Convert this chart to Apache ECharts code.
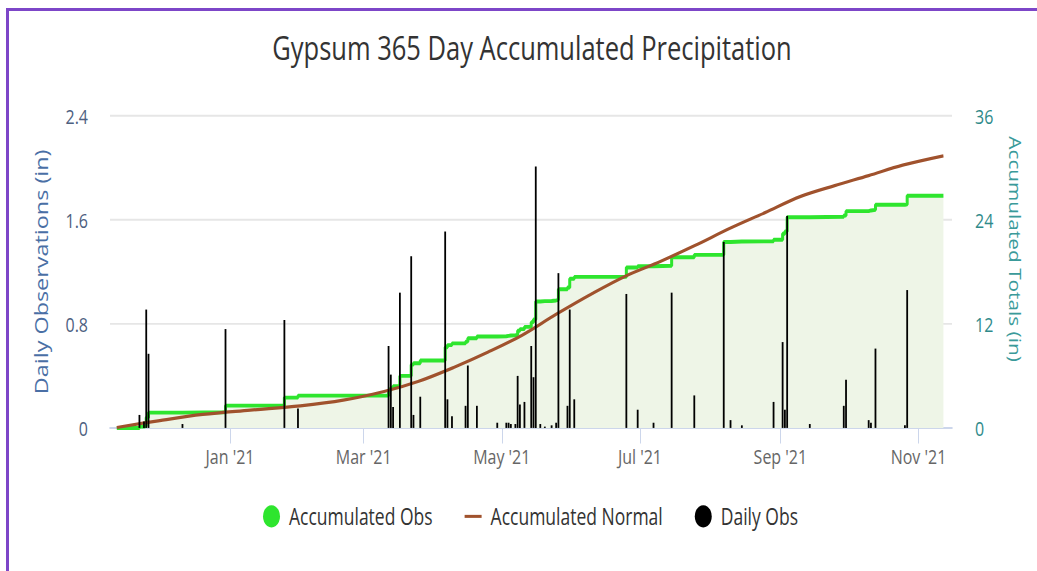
<!DOCTYPE html>
<html><head><meta charset="utf-8">
<script src="https://cdn.jsdelivr.net/npm/echarts@6/dist/echarts.min.js"></script>
<style>
html,body{margin:0;padding:0;background:#fff;overflow:hidden;width:1037px;height:571px;}
#chart{position:absolute;left:0;top:0;width:1037px;height:439px;transform:scaleY(1.3007);transform-origin:0 0;}
#frame{position:absolute;left:6px;top:8px;width:1100px;height:700px;border-left:3px solid #7d46c8;border-top:3px solid #7d46c8;box-sizing:border-box;pointer-events:none;}
</style></head><body>
<div id="chart"></div><div id="frame"></div>
<script>
// ---- data ----
const tickDates = ['2021-01-01','2021-03-01','2021-05-01','2021-07-01','2021-09-01','2021-11-01'];

const dailyDates = ['2020-11-22','2020-11-24','2020-11-25','2020-11-26','2020-12-11','2020-12-30','2021-01-25','2021-01-31',
  '2021-03-12','2021-03-13','2021-03-14','2021-03-17','2021-03-22','2021-03-23','2021-03-26','2021-04-06',
  '2021-04-07','2021-04-09','2021-04-15','2021-04-16','2021-04-20','2021-04-29','2021-05-03','2021-05-04',
  '2021-05-05','2021-05-07','2021-05-08','2021-05-09','2021-05-11','2021-05-14','2021-05-15','2021-05-16',
  '2021-05-18','2021-05-20','2021-05-23','2021-05-25','2021-05-26','2021-05-30','2021-05-31','2021-06-02',
  '2021-06-25','2021-06-30','2021-07-07','2021-07-15','2021-07-25','2021-08-07','2021-08-10','2021-08-15',
  '2021-08-29','2021-09-02','2021-09-03','2021-09-04','2021-09-14','2021-09-29','2021-09-30','2021-10-10',
  '2021-10-11','2021-10-13','2021-10-26','2021-10-27'];
const dailyValues = [0.10,0.05,0.91,0.57,0.03,0.76,0.83,0.15,
  0.63,0.41,0.16,1.04,1.32,0.10,0.24,1.51,
  0.22,0.09,0.17,0.48,0.17,0.04,0.04,0.04,
  0.03,0.03,0.40,0.18,0.20,0.63,0.39,2.01,
  0.03,0.01,0.02,0.04,1.19,0.17,0.91,0.22,
  1.03,0.14,0.04,1.04,0.25,1.43,0.06,0.02,
  0.20,0.66,0.14,1.63,0.03,0.17,0.37,0.06,
  0.04,0.61,0.02,1.06];

const accumDates = ['2020-11-12','2020-11-22','2020-11-24','2020-11-25','2020-11-26','2020-12-11','2020-12-30','2021-01-25','2021-01-31',
  '2021-03-12','2021-03-13','2021-03-14','2021-03-17','2021-03-22','2021-03-23','2021-03-26','2021-04-06',
  '2021-04-07','2021-04-09','2021-04-15','2021-04-16','2021-04-20','2021-04-29','2021-05-03','2021-05-04',
  '2021-05-05','2021-05-07','2021-05-08','2021-05-09','2021-05-11','2021-05-14','2021-05-15','2021-05-16',
  '2021-05-18','2021-05-20','2021-05-23','2021-05-25','2021-05-26','2021-05-30','2021-05-31','2021-06-02',
  '2021-06-25','2021-06-30','2021-07-07','2021-07-15','2021-07-25','2021-08-07','2021-08-10','2021-08-15',
  '2021-08-29','2021-09-02','2021-09-03','2021-09-04','2021-09-14','2021-09-29','2021-09-30','2021-10-10',
  '2021-10-11','2021-10-13','2021-10-26','2021-10-27','2021-11-12'];
const accumValues = [0,0.15,0.25,1.2,1.77,1.8,2.57,3.5,3.72,
  4.35,4.65,4.8,6.0,7.3,7.46,7.77,9.3,
  9.55,9.75,9.95,10.35,10.54,10.58,10.62,10.66,
  10.69,10.73,11.2,11.4,11.65,12.2,12.5,14.58,
  14.62,14.64,14.7,14.77,16.0,16.2,17.2,17.42,
  18.5,18.65,18.7,19.69,19.96,21.45,21.5,21.52,
  21.7,22.4,22.65,24.3,24.35,24.5,25.0,25.08,
  25.15,25.73,25.78,26.77,26.77];

const normalDates = ['2020-11-12','2020-12-01','2020-12-20','2021-01-10','2021-02-01','2021-02-20','2021-03-10',
  '2021-03-25','2021-04-10','2021-04-25','2021-05-10','2021-05-25','2021-06-10','2021-06-25','2021-07-10',
  '2021-07-25','2021-08-10','2021-08-25','2021-09-10','2021-09-25','2021-10-10','2021-10-25','2021-11-12'];
const normalValues = [0.05,0.85,1.55,2.05,2.55,3.2,4.2,
  5.35,7.0,8.75,10.7,13.1,15.5,17.55,19.2,
  21.0,23.05,24.8,26.7,27.95,29.1,30.3,31.38];

// ---- helpers ----
const FONT = '"Open Sans", sans-serif';
const MONTHS = ['Jan','Feb','Mar','Apr','May','Jun','Jul','Aug','Sep','Oct','Nov','Dec'];
function toTs(s){ const p = s.split('-').map(Number); return Date.UTC(p[0], p[1]-1, p[2]); }
function zip(d, v){ return d.map((x,i)=>[toTs(x), v[i]]); }
const ticks = tickDates.map(toTs);

const chart = echarts.init(document.getElementById('chart'), null, {renderer:'svg'});
chart.setOption({
  animation:false,
  title:{
    text:'Gypsum 365 Day Accumulated Precipitation',
    left:527, top:18, textAlign:'center',
    textStyle:{fontFamily:FONT, fontSize:25.5, fontWeight:'normal', color:'#333333'}
  },
  legend:{
    left:258, top:383, itemWidth:17, itemHeight:17, itemGap:32,
    textStyle:{fontFamily:FONT, fontSize:17.5, color:'#333333', padding:[0,0,0,4]},
    data:[
      {name:'Accumulated Obs', icon:'circle', itemStyle:{color:'#2ee52e'}},
      {name:'Accumulated Normal', icon:'path://M0,0H22V3H0Z', itemStyle:{color:'#a0522d'}},
      {name:'Daily Obs', icon:'circle', itemStyle:{color:'#000000'}}
    ]
  },
  grid:{left:110, right:85, top:89, bottom:110, containLabel:false, outerBoundsMode:'none'},
  xAxis:{
    type:'value',
    min:Date.UTC(2020,10,9), max:Date.UTC(2021,10,15,19),
    axisLine:{show:true, lineStyle:{color:'#ccd6eb', width:1.5}},
    axisTick:{show:true, customValues:ticks, length:12, lineStyle:{color:'#ccd6eb', width:1}},
    axisLabel:{
      customValues:ticks, margin:13, fontFamily:FONT, fontSize:16, color:'#666666',
      formatter:function(v){ const d=new Date(v); return MONTHS[d.getUTCMonth()] + " '" + String(d.getUTCFullYear()).slice(2); }
    },
    splitLine:{show:false}
  },
  yAxis:[
    {
      type:'value', min:0, max:2.4, interval:0.8, position:'left',
      name:'Daily Observations (in)', nameLocation:'middle', nameGap:60,
      nameTextStyle:{fontFamily:FONT, fontSize:18, color:'#4a6fa5'},
      axisLabel:{margin:22, fontFamily:FONT, fontSize:16, color:'#4d6080',
        formatter:function(v){ return v===0 ? '0' : v.toFixed(1); }},
      axisLine:{show:false}, axisTick:{show:false},
      splitLine:{show:true, lineStyle:{color:'#e6e6e6', width:1.5}}
    },
    {
      type:'value', min:0, max:36, interval:12, position:'right',
      name:'Accumulated Totals (in)', nameLocation:'middle', nameGap:55, nameRotate:-90,
      nameTextStyle:{fontFamily:FONT, fontSize:16, color:'#3a9a9a', padding:[0,35,0,0]},
      axisLabel:{margin:23, fontFamily:FONT, fontSize:16, color:'#2f8a8a'},
      axisLine:{show:false}, axisTick:{show:false},
      splitLine:{show:false}
    }
  ],
  series:[
    {
      name:'Accumulated Obs', type:'line', yAxisIndex:1, step:'end',
      data:zip(accumDates, accumValues), showSymbol:false, symbol:'none',
      lineStyle:{color:'#2ee52e', width:3}, itemStyle:{color:'#2ee52e'},
      areaStyle:{color:'#eef5e7', opacity:1}, z:2
    },
    {
      name:'Accumulated Normal', type:'line', yAxisIndex:1, smooth:0.35,
      data:zip(normalDates, normalValues), showSymbol:false, symbol:'none',
      lineStyle:{color:'#a0522d', width:2.5}, itemStyle:{color:'#a0522d'}, z:3
    },
    {
      name:'Daily Obs', type:'bar', yAxisIndex:0, barWidth:1.8,
      data:zip(dailyDates, dailyValues), itemStyle:{color:'#000000'}, z:4
    }
  ]
});
</script></body></html>
